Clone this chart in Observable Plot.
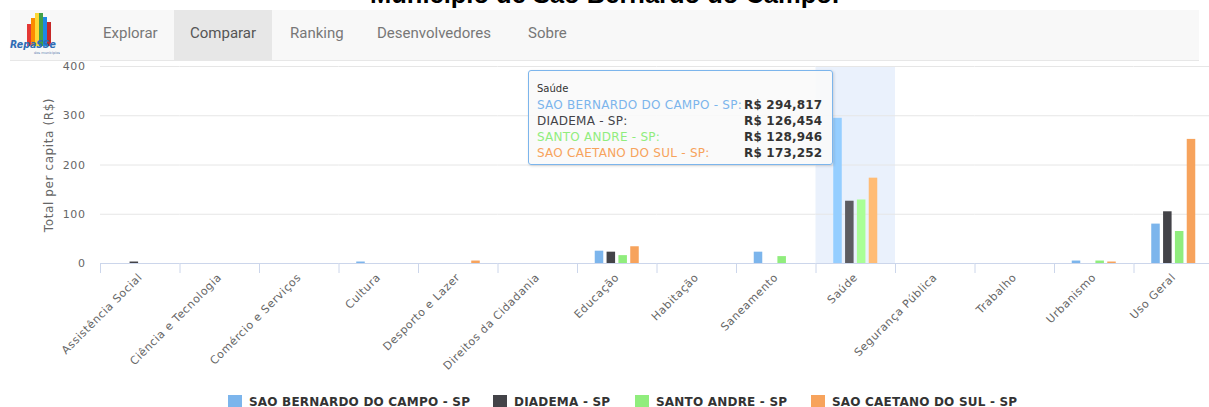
<!DOCTYPE html>
<html>
<head>
<meta charset="utf-8">
<script src="https://cdn.jsdelivr.net/npm/d3@7"></script>
<script src="https://cdn.jsdelivr.net/npm/@observablehq/plot@0.6"></script>
<style>
  html, body { margin: 0; padding: 0; background: #fff; }
  body { width: 1209px; height: 407px; overflow: hidden; position: relative; font-family: "DejaVu Sans", sans-serif; }
  #title { position: absolute; left: 0; width: 1209px; top: -20px; line-height: 26px; text-align: center;
           font: bold 25.5px "Liberation Sans", Arial, sans-serif; color: #000; margin: 0; z-index: 0; }
  #nav { position: absolute; left: 10px; top: 10px; width: 1189px; height: 50px; background: #f8f8f8;
         border-bottom: 1px solid #e7e7e7; z-index: 1; font-family: Roboto, "Liberation Sans", sans-serif; }
  #nav .item { position: absolute; top: 0; height: 50px; line-height: 47px; font-size: 15px; color: #777; padding: 0 16px; }
  #nav .item.active { background: #e7e7e7; color: #555; }
  #logo { position: absolute; left: -2px; top: 0; }
  #chart { position: absolute; left: 0; top: 56px; width: 1213px; height: 330px; z-index: 2; }
  #chart svg { max-width: none !important; }
  #tooltip { position: absolute; left: 528px; top: 70px; width: 303px; height: 93px; z-index: 3;
             background: rgba(249,249,249,0.9); border: 1px solid #7cb5ec; border-radius: 3px;
             box-shadow: 1px 1px 3px rgba(0,0,0,0.15); font-family: "DejaVu Sans", sans-serif; color: #333; }
  #tooltip .head { position: absolute; left: 8px; top: 12px; font-size: 10px; }
  #tooltip .row { position: absolute; left: 8px; font-size: 12px; white-space: nowrap; letter-spacing: 0.25px; }
  #tooltip .val { position: absolute; left: 215px; font-size: 12px; font-weight: bold; white-space: nowrap; color: #333; letter-spacing: 0.2px; }
  #legend { position: absolute; left: 0; top: 395px; width: 1209px; height: 14px; z-index: 2; }
  #legend .li { position: absolute; top: 0; height: 14px; font: bold 12px "DejaVu Sans", sans-serif; color: #333; white-space: nowrap; line-height: 14px; letter-spacing: 0.2px; }
  #legend .sw { display: inline-block; width: 14px; height: 14px; vertical-align: top; margin-right: 7px; }
  #chart text { letter-spacing: 0.6px; }
</style>
</head>
<body>
<div id="title">Município de São Bernardo do Campo.</div>
<div id="nav">
  <svg id="logo" width="52" height="50" viewBox="0 0 52 50">
    <rect x="19" y="14" width="4" height="22" fill="#e53935"/>
    <rect x="23" y="8" width="4" height="28" fill="#fb8c00"/>
    <rect x="27" y="3" width="4" height="33" fill="#fdd835"/>
    <rect x="31" y="3" width="4" height="33" fill="#43a047"/>
    <rect x="35" y="7" width="4" height="29" fill="#1e88e5"/>
    <rect x="39" y="12" width="4" height="24" fill="#c62828"/>
    <text x="2" y="38" font-family="DejaVu Sans" font-style="italic" font-weight="bold" font-size="10.5" textLength="46" lengthAdjust="spacingAndGlyphs" fill="#2f6db5">RepaSSe</text>
    <text x="26" y="44" font-family="DejaVu Sans" font-size="3.5" fill="#5a7fb0">dos municipios</text>
  </svg>
  <div class="item" style="left:77px">Explorar</div>
  <div class="item active" style="left:164px">Comparar</div>
  <div class="item" style="left:264px">Ranking</div>
  <div class="item" style="left:351px">Desenvolvedores</div>
  <div class="item" style="left:502px">Sobre</div>
</div>
<div id="chart"></div>
<div id="tooltip"></div>
<div id="legend"></div>
<script>
const categories = ["Assistência Social","Ciência e Tecnologia","Comércio e Serviços","Cultura","Desporto e Lazer","Direitos da Cidadania","Educação","Habitação","Saneamento","Saúde","Segurança Pública","Trabalho","Urbanismo","Uso Geral"];
const seriesNames = ["SAO BERNARDO DO CAMPO - SP","DIADEMA - SP","SANTO ANDRE - SP","SAO CAETANO DO SUL - SP"];
const saoBernardo = [0, 0, 0, 3, 0, 0, 25, 0, 23, 294.817, 0, 0, 5, 80];
const diadema     = [3, 0, 0, 0, 0, 0, 23, 0, 0, 126.454, 0, 0, 0, 105];
const santoAndre  = [0, 0, 0, 0, 0, 0, 16, 0, 14, 128.946, 0, 0, 5, 65];
const saoCaetano  = [0, 0, 0, 0, 5, 0, 34, 0, 0, 173.252, 0, 0, 3, 252];
const seriesColors = ["#7cb5ec","#434348","#90ed7d","#f7a35c"];
const hoverColors  = ["#95ceff","#5c5c61","#a9ff96","#ffbc75"];
const yTicks = [0, 100, 200, 300, 400];
const hoveredCategory = "Saúde";
const yLabel = "Total per capita (R$)";

const allValues = [saoBernardo, diadema, santoAndre, saoCaetano];
const rows = categories.flatMap((c, i) => seriesNames.map((s, j) => ({
  category: c, series: s, value: allValues[j][i],
  color: c === hoveredCategory ? hoverColors[j] : seriesColors[j]
})));

const chart = Plot.plot({
  width: 1213, height: 330,
  marginTop: 10, marginBottom: 123, marginLeft: 100, marginRight: 0,
  style: {fontFamily: "DejaVu Sans", fontSize: "11px", color: "#666", background: "transparent", overflow: "visible", maxWidth: "none"},
  fx: {domain: categories, padding: 0, round: false, label: null},
  x: {domain: seriesNames, paddingInner: 0.28, paddingOuter: 1.5, round: false, axis: null},
  y: {domain: [0, 400], axis: null},
  color: {type: "identity"},
  marks: [
    Plot.barY([hoveredCategory], {fx: d => d, y1: 0, y2: 400, fill: "#eaf1fc"}),
    Plot.ruleY(yTicks.filter(t => t > 0), {stroke: "#e6e6e6", strokeWidth: 1}),
    Plot.ruleY([0], {stroke: "#ccd6eb", strokeWidth: 1}),
    Plot.barY(rows.filter(d => d.value > 0), {fx: "category", x: "series", y: "value", fill: "color"}),
    Plot.ruleY(rows, {fx: "category", y: 0, strokeOpacity: 0}),
    Plot.axisY({ticks: yTicks, tickSize: 0, tickPadding: 15, label: yLabel, labelAnchor: "center", labelArrow: "none", labelOffset: 56, fontSize: 11, fill: "#666", facetAnchor: "left"}),
    Plot.axisFx({anchor: "bottom", tickSize: 10, tickFormat: () => "", dx: -39.75, stroke: "#ccd6eb", strokeOpacity: 1, label: null}),
    Plot.axisFx({anchor: "bottom", tickSize: 0, tickRotate: -45, tickPadding: 12, fontSize: 11, fill: "#666", label: null})
  ]
});
chart.style.maxWidth = "none";
document.getElementById("chart").appendChild(chart);
// larger y-axis title
chart.querySelectorAll("text").forEach(t => { if (t.textContent === yLabel) t.setAttribute("font-size", "12"); });

// tooltip
const tip = document.getElementById("tooltip");
const hi = categories.indexOf(hoveredCategory);
const head = document.createElement("div");
head.className = "head"; head.textContent = hoveredCategory; tip.appendChild(head);
seriesNames.forEach((s, j) => {
  const top = 27 + j * 16;
  const r = document.createElement("div");
  r.className = "row"; r.style.top = top + "px"; r.style.color = seriesColors[j];
  r.textContent = s + ":"; tip.appendChild(r);
  const v = document.createElement("div");
  v.className = "val"; v.style.top = top + "px";
  v.textContent = "R$ " + allValues[j][hi].toFixed(3).replace(".", ",");
  tip.appendChild(v);
});

// legend
const legendX = [228, 493, 635, 811];
const leg = document.getElementById("legend");
seriesNames.forEach((s, j) => {
  const it = document.createElement("div");
  it.className = "li"; it.style.left = legendX[j] + "px";
  const sw = document.createElement("span");
  sw.className = "sw"; sw.style.background = seriesColors[j];
  it.appendChild(sw); it.appendChild(document.createTextNode(s));
  leg.appendChild(it);
});
</script>
</body>
</html>
